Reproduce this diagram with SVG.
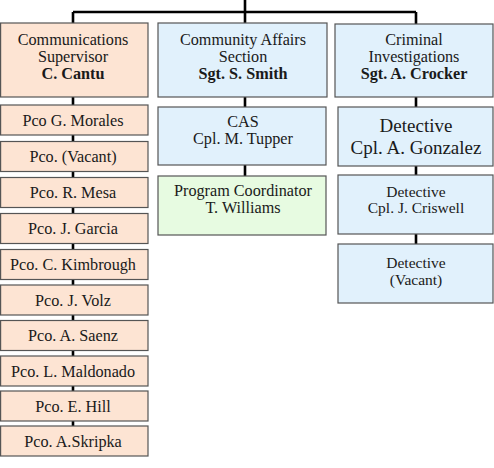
<svg xmlns="http://www.w3.org/2000/svg" width="494" height="468" viewBox="0 0 494 468">
<style>
.b{stroke:#555;stroke-width:1.2}
.p{fill:#fde4d3}
.bl{fill:#e1f1fc}
.g{fill:#e7fbe1}
text{font-family:'Liberation Serif','Times New Roman',serif;font-size:16.2px;fill:#1a1a1a;text-anchor:middle}
.bd{font-weight:bold}
.lg{font-size:19px}
.sm{font-size:15.5px}
.c{stroke:#000;stroke-width:2.6;fill:none}
</style>
<rect width="494" height="468" fill="#fff"/>
<g id="connectors">
<path class="c" d="M73 12H416M245 0V23M73 12V23M416 12V24M73 97V426M245 97V176M416 97V244"/>
</g>
<g id="comm-sup">
<rect class="b p" x="0.6" y="23" width="147.4" height="74"/>
<text x="73" y="45">Communications</text>
<text x="73" y="62">Supervisor</text>
<text x="73" y="78.5" class="bd">C. Cantu</text>
</g>
<g id="pco1"><rect class="b p" x="0.6" y="105" width="147.4" height="30"/><text x="73" y="125.5">Pco G. Morales</text></g>
<g id="pco2"><rect class="b p" x="0.6" y="141.5" width="147.4" height="30"/><text x="73" y="162">Pco. (Vacant)</text></g>
<g id="pco3"><rect class="b p" x="0.6" y="177.5" width="147.4" height="30"/><text x="73" y="198">Pco. R. Mesa</text></g>
<g id="pco4"><rect class="b p" x="0.6" y="213.5" width="147.4" height="30"/><text x="73" y="234">Pco. J. Garcia</text></g>
<g id="pco5"><rect class="b p" x="0.6" y="249.5" width="147.4" height="30"/><text x="73" y="270">Pco. C. Kimbrough</text></g>
<g id="pco6"><rect class="b p" x="0.6" y="285" width="147.4" height="30"/><text x="73" y="305.5">Pco. J. Volz</text></g>
<g id="pco7"><rect class="b p" x="0.6" y="320.5" width="147.4" height="30"/><text x="73" y="341">Pco. A. Saenz</text></g>
<g id="pco8"><rect class="b p" x="0.6" y="356" width="147.4" height="30"/><text x="73" y="376.5">Pco. L. Maldonado</text></g>
<g id="pco9"><rect class="b p" x="0.6" y="391" width="147.4" height="30"/><text x="73" y="411.5">Pco. E. Hill</text></g>
<g id="pco10"><rect class="b p" x="0.6" y="426" width="147.4" height="30"/><text x="73" y="446.5">Pco. A.Skripka</text></g>
<g id="cas-section">
<rect class="b bl" x="158" y="23" width="169" height="74"/>
<text x="243" y="45">Community Affairs</text>
<text x="243" y="62">Section</text>
<text x="243" y="78.5" class="bd">Sgt. S. Smith</text>
</g>
<g id="cas">
<rect class="b bl" x="158" y="107" width="168" height="58"/>
<text x="243" y="127">CAS</text>
<text x="243" y="143.5">Cpl. M. Tupper</text>
</g>
<g id="program-coord">
<rect class="b g" x="158" y="176" width="168" height="59"/>
<text x="243" y="196">Program Coordinator</text>
<text x="243" y="212.5">T. Williams</text>
</g>
<g id="crim-inv">
<rect class="b bl" x="335" y="24" width="158" height="73"/>
<text x="414" y="45">Criminal</text>
<text x="414" y="62">Investigations</text>
<text x="414" y="78.5" class="bd">Sgt. A. Crocker</text>
</g>
<g id="det-gonzalez">
<rect class="b bl" x="338" y="107" width="155" height="59"/>
<text x="416" y="132" class="lg">Detective</text>
<text x="416" y="154" class="lg">Cpl. A. Gonzalez</text>
</g>
<g id="det-criswell">
<rect class="b bl" x="338" y="175" width="155" height="59"/>
<text x="416" y="197" class="sm">Detective</text>
<text x="416" y="213" class="sm">Cpl. J. Criswell</text>
</g>
<g id="det-vacant">
<rect class="b bl" x="338" y="244" width="155" height="59"/>
<text x="416" y="268" class="sm">Detective</text>
<text x="416" y="285" class="sm">(Vacant)</text>
</g>
</svg>
